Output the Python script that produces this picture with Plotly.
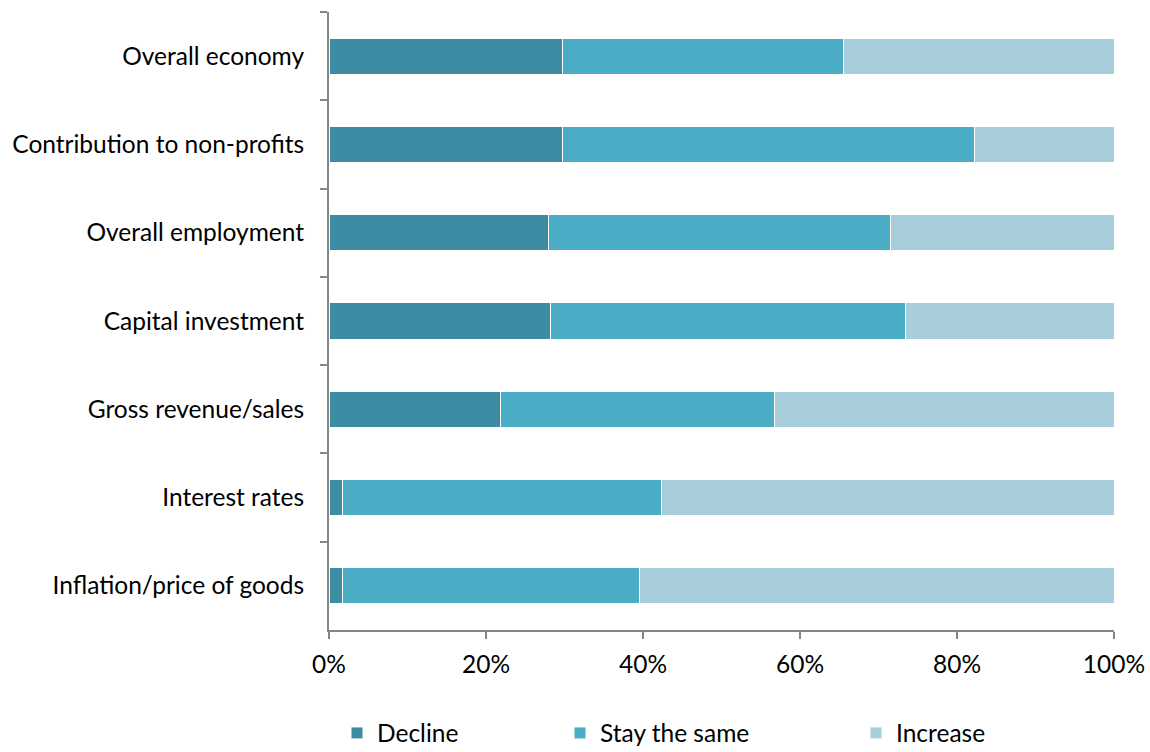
import plotly.graph_objects as go

categories = ["Overall economy", "Contribution to non-profits", "Overall employment",
              "Capital investment", "Gross revenue/sales", "Interest rates",
              "Inflation/price of goods"]
decline = [29.8, 29.7, 28.0, 28.2, 21.8, 1.7, 1.7]
stay = [35.8, 52.5, 43.5, 45.3, 35.0, 40.7, 37.9]
increase = [34.4, 17.8, 28.5, 26.5, 43.2, 57.6, 60.4]
x_ticks = [0, 20, 40, 60, 80, 100]
x_tick_labels = ["0%", "20%", "40%", "60%", "80%", "100%"]

series = [("Decline", decline, "#3C8CA3", "legend"),
          ("Stay the same", stay, "#4BACC6", "legend2"),
          ("Increase", increase, "#A8CEDC", "legend3")]

fig = go.Figure()
for name, vals, color, lg in series:
    fig.add_trace(go.Bar(y=categories, x=vals, name=name, orientation="h",
                         marker=dict(color=color, line=dict(color="white", width=1)),
                         width=0.41, legend=lg))

font_family = "Lato, 'Open Sans', sans-serif"
legend_x = [337, 560, 856]  # pixel positions of each legend box's left edge


def legend_cfg(px):
    return dict(orientation="h", x=px / 1150, xref="container", xanchor="left",
                y=(752 - 733) / 752, yref="container", yanchor="middle",
                font=dict(size=24.5, color="black"), bgcolor="rgba(0,0,0,0)")


fig.update_layout(
    barmode="stack",
    width=1150, height=752,
    margin=dict(l=329, r=36, t=12, b=122, autoexpand=False),
    plot_bgcolor="white", paper_bgcolor="white",
    font=dict(family=font_family, size=24.5, color="black"),
    showlegend=True,
    legend=legend_cfg(legend_x[0]),
    legend2=legend_cfg(legend_x[1]),
    legend3=legend_cfg(legend_x[2]),
    xaxis=dict(range=[0, 100], tickvals=x_ticks, ticktext=x_tick_labels,
               showgrid=False, zeroline=False, showline=True, linecolor="#868686",
               linewidth=2, ticks="outside", ticklen=7, tickcolor="#868686", tickwidth=2,
               ticklabelstandoff=5, automargin=False, fixedrange=True),
    yaxis=dict(autorange="reversed", showgrid=False, zeroline=False, showline=True,
               linecolor="#868686", linewidth=2, ticks="outside", ticklen=7,
               tickcolor="#868686", tickwidth=2, tickson="boundaries",
               ticklabelstandoff=18, automargin=False, fixedrange=True),
)

fig.write_html("out.html")
